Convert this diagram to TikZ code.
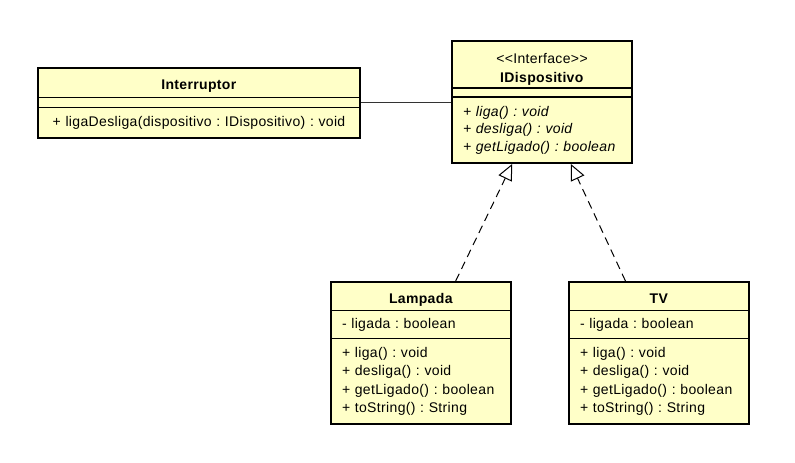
\documentclass[tikz,border=0pt]{standalone}
\usepackage{fontspec}
\usepackage{xcolor}
\usepackage{tikz}
\usetikzlibrary{arrows.meta,positioning,fit}
\newfontfamily\umlfont[LetterSpace=2.5]{Liberation Sans}
\definecolor{umlyellow}{RGB}{255,255,200}
\tikzset{
  compart/.style={
    draw, line width=0.8pt, fill=umlyellow, outer sep=0pt,
    inner xsep=8.25pt, inner ysep=0pt,
    font=\umlfont\frenchspacing\fontsize{10.5}{13.7}\selectfont
  },
  namepart/.style={compart, align=center},
  titlepart/.style={namepart, text height=10.5pt, text depth=0pt},
  listpart/.style={compart, align=left},
  classframe/.style={draw, line width=1.5pt, inner sep=0pt},
  assoc/.style={line width=0.75pt, black!80},
  realize/.style={
    line width=0.75pt, dash pattern=on 6pt off 4pt,
    -{Triangle[open, length=12pt, width=11pt]}
  },
}

\begin{document}
\begin{tikzpicture}[x=0.75pt, y=-0.75pt]
  \useasboundingbox (0,0) rectangle (795,463);

  % Interruptor
  \node[titlepart, text width=225pt, minimum height=22.1pt, anchor=north west]
    (intName) at (38,68) {\textbf{Interruptor}};
  \node[listpart, text width=225pt, minimum height=7.5pt, below=0pt of intName]
    (intAttr) {};
  \node[namepart, text width=225pt, minimum height=22.9pt, below=0pt of intAttr]
    (intOps) {+ ligaDesliga(dispositivo : IDispositivo) : void};
  \node[classframe, fit=(intName)(intOps)] (interruptor) {};

  % IDispositivo
  \node[namepart, text width=118.5pt, minimum height=35.25pt, anchor=north west]
    (idName) at (452,41)
    {\rule{0pt}{14.5pt}<{}<Interface>{}>\\[0.5pt]\textbf{IDispositivo}};
  \node[listpart, text width=118.5pt, minimum height=6.75pt, below=0pt of idName]
    (idAttr) {};
  \node[listpart, text width=118.5pt, minimum height=49.5pt, below=0pt of idAttr,
    font=\umlfont\frenchspacing\fontsize{10.5}{13.2}\selectfont\itshape]
    (idOps) {+ liga() : void\\+ desliga() : void\\+ getLigado() : boolean};
  \node[classframe, fit=(idName)(idOps)] (idisp) {};

  % Lampada
  \node[titlepart, text width=118.5pt, minimum height=21.5pt, anchor=north west]
    (lampName) at (331,282) {\textbf{Lampada}};
  \node[listpart, text width=118.5pt, minimum height=21pt, below=0pt of lampName]
    (lampAttr) {- ligada : boolean};
  \node[listpart, text width=118.5pt, minimum height=64pt, below=0pt of lampAttr]
    (lampOps) {+ liga() : void\\+ desliga() : void\\+ getLigado() : boolean\\+ toString() : String};
  \node[classframe, fit=(lampName)(lampOps)] (lampada) {};

  % TV
  \node[titlepart, text width=118.5pt, minimum height=21.5pt, anchor=north west]
    (tvName) at (569,282) {\textbf{TV}};
  \node[listpart, text width=118.5pt, minimum height=21pt, below=0pt of tvName]
    (tvAttr) {- ligada : boolean};
  \node[listpart, text width=118.5pt, minimum height=64pt, below=0pt of tvAttr]
    (tvOps) {+ liga() : void\\+ desliga() : void\\+ getLigado() : boolean\\+ toString() : String};
  \node[classframe, fit=(tvName)(tvOps)] (tv) {};

  % Relations
  \draw[assoc] (interruptor.east) -- (interruptor.east -| idisp.west);
  \draw[realize] (lampada) -- (idisp);
  \draw[realize] (tv) -- (idisp);
\end{tikzpicture}
\end{document}
